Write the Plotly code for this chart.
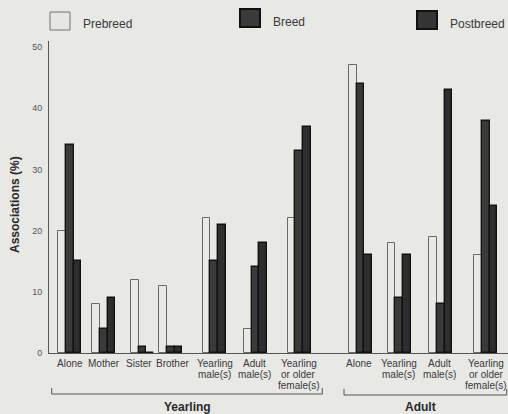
import plotly.graph_objects as go

# ---------------- data ----------------
categories = ["Alone", "Mother", "Sister", "Brother", "Yearling\nmale(s)", "Adult\nmale(s)",
              "Yearling\nor older\nfemale(s)",
              "Alone", "Yearling\nmale(s)", "Adult\nmale(s)", "Yearling\nor older\nfemale(s)"]
prebreed = [20, 8, 12, 11, 22, 4, 22, 47, 18, 19, 16]
breed = [34, 4, 1, 1, 15, 14, 33, 44, 9, 8, 38]
postbreed = [15, 9, 0, 1, 21, 18, 37, 16, 16, 43, 24]
series_names = ["Prebreed", "Breed", "Postbreed"]
y_ticks = [0, 10, 20, 30, 40, 50]
group_names = ["Yearling", "Adult"]

# ---------------- layout helpers ----------------
W, H = 508, 414
L, R, T, B = 49, 0, 41, 61
PW, PH = W - L - R, H - T - B
group_pos = [20.8, 54.8, 93.5, 121.8, 165.2, 206.5, 250.2, 311.5, 350.2, 391.8, 436.8]
label_pos = [20.7, 55.0, 90.3, 123.5, 165.5, 205.0, 249.9, 310.3, 349.5, 390.5, 437.0]
BG = "#e8e8e5"
FONT = "Liberation Sans, Arial, sans-serif"


def px(p):
    return (p - L) / PW


def py(p):
    return (T + PH - p) / PH


styles = [
    dict(fill="#e9e9e6", line="#6a6a6a", lw=1, offset=-11.5, width=7.7),
    dict(fill="#3a3a3a", line="#141414", lw=1.4, offset=-3.8, width=7.7),
    dict(fill="#2e2e2e", line="#101010", lw=1.4, offset=3.9, width=7.4),
]

fig = go.Figure()
for name, vals, st in zip(series_names, [prebreed, breed, postbreed], styles):
    fig.add_trace(go.Bar(
        x=group_pos, y=vals, name=name,
        offset=st["offset"], width=st["width"],
        marker=dict(color=st["fill"], line=dict(color=st["line"], width=st["lw"])),
        showlegend=False,
    ))

annotations = []
# category labels (multi-line, centred, tight line spacing)
for xp, lab in zip(label_pos, categories):
    for i, line in enumerate(lab.split("\n")):
        annotations.append(dict(
            x=xp, y=0, xref="x", yref="y", text=line, showarrow=False,
            xanchor="center", yanchor="middle", yshift=-10 - 11 * i,
            font=dict(family=FONT, size=10, color="#3a3a3a"),
        ))

# y axis title
annotations.append(dict(
    x=px(15), y=py(205), xref="paper", yref="paper", text="<b>Associations (%)</b>",
    showarrow=False, textangle=-90, xanchor="center", yanchor="middle",
    font=dict(family=FONT, size=12, color="#2a2a2a"),
))

shapes = []
# legend
legend_items = [(50, 12, 70, 30, 81, 24), (240, 9, 260, 27, 271, 22), (417, 11, 437, 29, 448, 24)]
legend_cols = [("#e6e6e3", "#707070", 1), ("#3a3a3a", "#111111", 2), ("#353535", "#111111", 2)]
for (x0, y0, x1, y1, tx, ty), (fc, lc, lw), name in zip(legend_items, legend_cols, series_names):
    shapes.append(dict(type="rect", xref="paper", yref="paper",
                       x0=px(x0), x1=px(x1), y0=py(y1), y1=py(y0),
                       fillcolor=fc, line=dict(color=lc, width=lw)))
    annotations.append(dict(x=px(tx), y=py(ty), xref="paper", yref="paper", text=name,
                            showarrow=False, xanchor="left", yanchor="middle",
                            font=dict(family=FONT, size=12, color="#3a3a3a")))

# group brackets
brackets = [(51.7, 322.3, 394, 187, "Yearling"), (344, 506.7, 395, 420, "Adult")]
for (x0, x1, yl, xc, name) in brackets:
    path = "M {a},{b} L {a},{c} L {d},{c} L {d},{b}".format(
        a=px(x0), b=py(yl - 6), c=py(yl), d=px(x1))
    shapes.append(dict(type="path", xref="paper", yref="paper", path=path,
                       line=dict(color="#555555", width=1)))
    annotations.append(dict(x=px(xc), y=py(407), xref="paper", yref="paper",
                            text="<b>%s</b>" % name, showarrow=False,
                            xanchor="center", yanchor="middle",
                            font=dict(family=FONT, size=12, color="#2a2a2a")))

fig.update_layout(
    width=W, height=H,
    margin=dict(l=L, r=R, t=T, b=B, pad=0),
    paper_bgcolor=BG, plot_bgcolor=BG,
    barmode="overlay", bargap=0,
    xaxis=dict(range=[0, PW], showgrid=False, zeroline=False, showticklabels=False,
               ticks="", showline=True, linecolor="#555555", linewidth=1, fixedrange=True),
    yaxis=dict(range=[0, 51], tickvals=y_ticks, showgrid=False, zeroline=False,
               ticks="", showline=True, linecolor="#555555", linewidth=1,
               tickfont=dict(family=FONT, size=9, color="#555555"), ticklabelstandoff=4),
    shapes=shapes, annotations=annotations,
)

fig.write_html(
    "out.html",
    config={"displayModeBar": False},
    post_script="document.body.style.margin='0';document.body.style.padding='0';"
                "document.body.style.background='%s';" % BG,
)
